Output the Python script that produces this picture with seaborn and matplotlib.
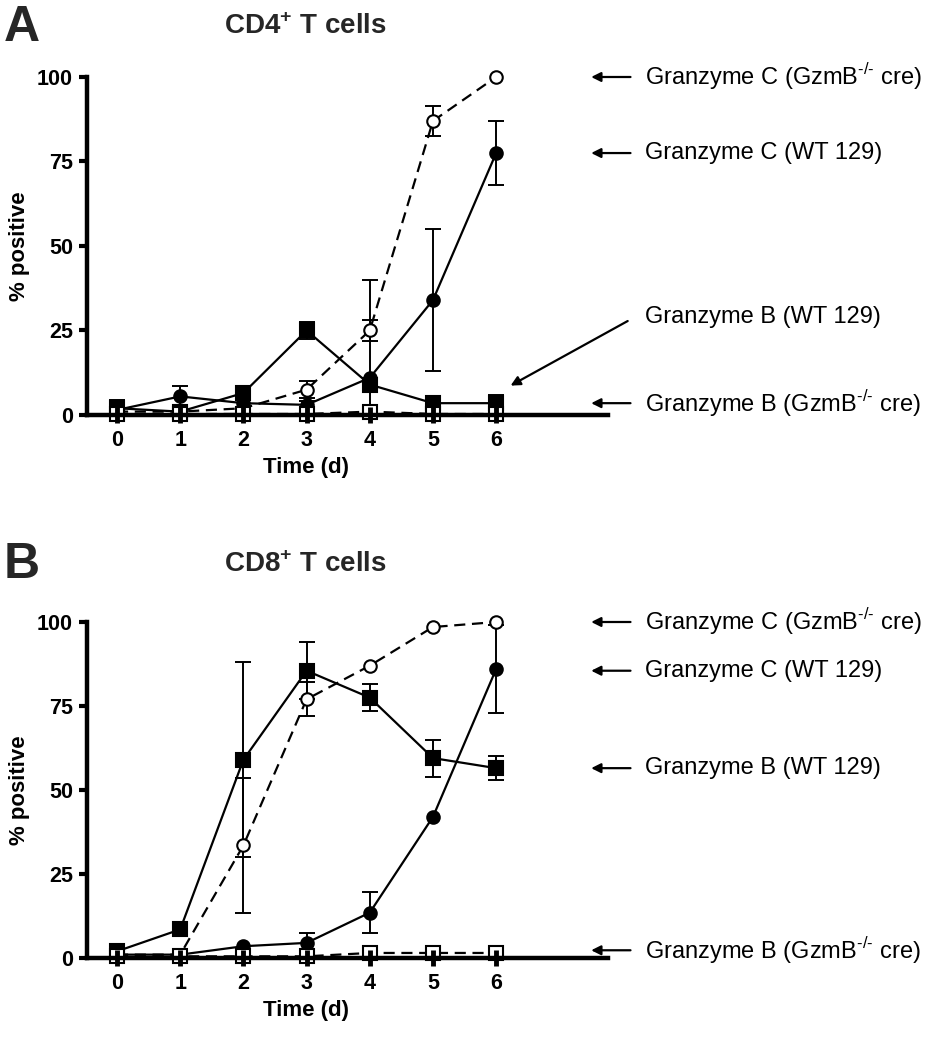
import numpy as np
import pandas as pd
import seaborn as sns
import matplotlib.pyplot as plt

# days after activation
days = [0, 1, 2, 3, 4, 5, 6]
series_names = ["Granzyme C (GzmB$^{\\text{-/-}}$ cre)", "Granzyme C (WT 129)",
                "Granzyme B (WT 129)", "Granzyme B (GzmB$^{\\text{-/-}}$ cre)"]

# CD4+ T cells (% positive, mean and error)
cd4_gzmc_cre = [1, 1, 2, 7.5, 25, 87, 100]
cd4_gzmc_cre_err = [0, 0, 0, 2.5, 3, 4.5, 0]
cd4_gzmc_wt = [1.5, 5.5, 3.5, 3, 11, 34, 77.5]
cd4_gzmc_wt_err = [1, 3, 1, 1, 29, 21, 9.5]
cd4_gzmb_wt = [2, 1, 6.5, 25, 9, 3.5, 3.5]
cd4_gzmb_wt_err = [2.3, 1, 1, 2.5, 2, 1, 2.5]
cd4_gzmb_cre = [0.3, 0.3, 0.3, 0.3, 1, 0.3, 0.3]
cd4_gzmb_cre_err = [0, 0, 0, 0, 0, 0, 0]

# CD8+ T cells
cd8_gzmc_cre = [1, 1, 33.5, 77, 87, 98.5, 100]
cd8_gzmc_cre_err = [0, 0, 20, 5, 0, 0, 0]
cd8_gzmc_wt = [1, 1, 3.5, 4.5, 13.5, 42, 86]
cd8_gzmc_wt_err = [0, 0, 0, 3, 6, 0, 13]
cd8_gzmb_wt = [2, 8.5, 59, 85.5, 77.5, 59.5, 56.5]
cd8_gzmb_wt_err = [1, 0, 29, 8.5, 4, 5.5, 3.5]
cd8_gzmb_cre = [0.5, 0.5, 0.5, 0.5, 1.5, 1.5, 1.5]
cd8_gzmb_cre_err = [0, 0, 0, 0, 0, 0, 0]


def make_df(vals, errs):
    rows = []
    for name, v, e in zip(series_names, vals, errs):
        for d, y, s in zip(days, v, e):
            rows.append({"day": d, "pct": y, "err": s, "series": name})
    return pd.DataFrame(rows)


cd4 = make_df([cd4_gzmc_cre, cd4_gzmc_wt, cd4_gzmb_wt, cd4_gzmb_cre],
              [cd4_gzmc_cre_err, cd4_gzmc_wt_err, cd4_gzmb_wt_err, cd4_gzmb_cre_err])
cd8 = make_df([cd8_gzmc_cre, cd8_gzmc_wt, cd8_gzmb_wt, cd8_gzmb_cre],
              [cd8_gzmc_cre_err, cd8_gzmc_wt_err, cd8_gzmb_wt_err, cd8_gzmb_cre_err])

# marker, face, linestyle for each series
styles = {
    series_names[0]: ("o", "white", (0, (5, 3))),
    series_names[1]: ("o", "black", "-"),
    series_names[2]: ("s", "black", "-"),
    series_names[3]: ("s", "white", (0, (5, 3))),
}

sns.set_theme(style="ticks")
plt.rcParams["font.family"] = ["Liberation Sans", "DejaVu Sans"]
plt.rcParams["mathtext.fontset"] = "custom"
plt.rcParams["mathtext.rm"] = "Liberation Sans"
plt.rcParams["mathtext.bf"] = "Liberation Sans:bold"

W, H = 933, 1050
fig = plt.figure(figsize=(W / 100, H / 100), dpi=100)


def px_axes(left, right, top, bottom):
    return fig.add_axes([left / W, 1 - bottom / H, (right - left) / W, (bottom - top) / H])


def draw_panel(ax, df, label_ys, diag=None):
    for name in series_names:
        sub = df[df.series == name]
        mk, face, ls = styles[name]
        sub_e = sub[sub.err > 0]
        ax.errorbar(sub_e.day, sub_e.pct,
                    yerr=[np.minimum(sub_e.err, sub_e.pct), sub_e.err],
                    fmt="none", ecolor="black", elinewidth=1.4, capsize=6,
                    capthick=1.4, zorder=1.5)
        sns.lineplot(data=sub, x="day", y="pct", ax=ax, color="black",
                     estimator=None, errorbar=None, linewidth=1.6,
                     linestyle=ls, marker=mk, markersize=9 if mk == "o" else 9.5,
                     markerfacecolor=face, markeredgecolor="black",
                     markeredgewidth=1.5, clip_on=False, zorder=2, legend=False)

    ax.set_xlim(-0.475, 7.77)
    ax.set_ylim(0, 100)
    ax.set_xticks(days)
    ax.set_yticks([0, 25, 50, 75, 100])
    ax.set_axisbelow(False)
    sns.despine(ax=ax)
    for sp in ["left", "bottom"]:
        ax.spines[sp].set_linewidth(3.2)
        ax.spines[sp].set_color("black")
        ax.spines[sp].set_zorder(3)
    ax.tick_params(axis="x", direction="inout", length=12, width=3.5, pad=5,
                   labelsize=15.5, colors="black")
    ax.tick_params(axis="y", direction="out", length=6, width=3, pad=4,
                   labelsize=15.5, colors="black")
    for t in ax.get_xticklabels() + ax.get_yticklabels():
        t.set_fontweight("bold")
    ax.set_xlabel("Time (d)", fontsize=16, fontweight="bold", color="black")
    ax.set_ylabel("% positive", fontsize=16, fontweight="bold", color="black")
    ax.xaxis.set_label_coords(0.42, -0.125)
    ax.yaxis.set_label_coords(-0.11, 0.5)
    ax.grid(False)

    # labels with arrows on the right
    for i, (name, y) in enumerate(zip(series_names, label_ys)):
        ax.text(8.36, y, name, fontsize=17, ha="left", va="center",
                color="black", clip_on=False)
        if diag is not None and i == diag[0]:
            ax.annotate("", xy=diag[1], xytext=(8.12, y - 0.8),
                        arrowprops=dict(arrowstyle="-|>", color="black",
                                        lw=1.6, mutation_scale=14),
                        annotation_clip=False)
        else:
            ax.annotate("", xy=(7.46, y), xytext=(8.17, y),
                        arrowprops=dict(arrowstyle="-|>", color="black",
                                        lw=1.6, mutation_scale=14),
                        annotation_clip=False)


ax_a = px_axes(87, 608, 77, 415)
draw_panel(ax_a, cd4, [100, 77.5, 29, 3.5], diag=(2, (6.19, 8.3)))

ax_b = px_axes(87, 608, 622, 958)
draw_panel(ax_b, cd8, [100, 85.5, 56.5, 2.3])

# panel letters and titles
fig.text(4 / W, 1 - 28 / H, "A", fontsize=36, fontweight="bold", va="center", ha="left")
fig.text(305 / W, 1 - 27 / H, "CD4$^{\\mathbf{+}}$ T cells", fontsize=20,
         fontweight="bold", va="center", ha="center")
fig.text(4 / W, 1 - 565 / H, "B", fontsize=36, fontweight="bold", va="center", ha="left")
fig.text(305 / W, 1 - 565 / H, "CD8$^{\\mathbf{+}}$ T cells", fontsize=20,
         fontweight="bold", va="center", ha="center")

fig.savefig("out.png", dpi=100, facecolor="white")
